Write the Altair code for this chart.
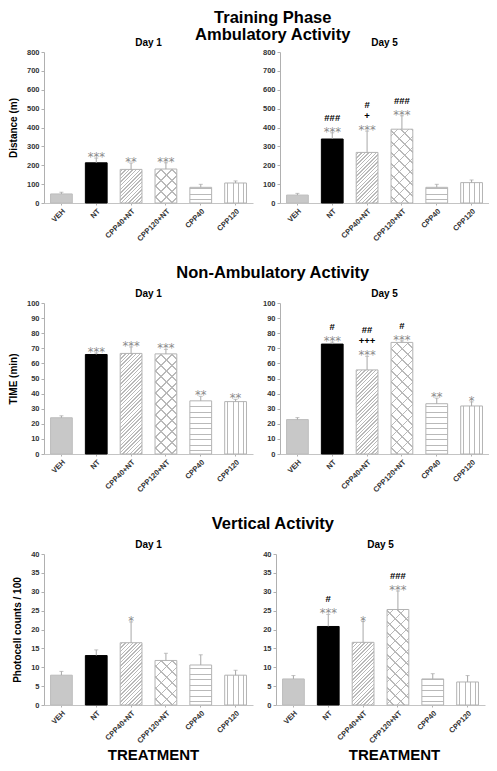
import math
import altair as alt
import pandas as pd

categories = ["VEH", "NT", "CPP40+NT", "CPP120+NT", "CPP40", "CPP120"]

amb_day1 = [48, 213, 178, 180, 83, 106]
amb_day1_sem = [9, 25, 34, 33, 16, 11]
amb_day1_sig = ["", "***", "**", "***", "", ""]
amb_day5 = [42, 339, 268, 391, 83, 108]
amb_day5_sem = [9, 33, 113, 71, 16, 14]
amb_day5_sig = ["", "***|###", "***|+|#", "***|###", "", ""]

non_day1 = [24.0, 65.9, 66.6, 66.3, 35.2, 34.7]
non_day1_sem = [1.3, 1.0, 4.3, 3.0, 3.0, 1.5]
non_day1_sig = ["", "***", "***", "***", "**", "**"]
non_day5 = [22.8, 72.8, 55.7, 73.9, 33.3, 31.8]
non_day5_sem = [1.3, 1.3, 9.0, 1.0, 3.7, 2.7]
non_day5_sig = ["", "***|#", "***|+++|##", "***|#", "**", "*"]

vert_day1 = [7.9, 13.1, 16.5, 11.8, 10.6, 7.9]
vert_day1_sem = [1.0, 1.5, 5.5, 1.9, 2.7, 1.3]
vert_day1_sig = ["", "", "*", "", "", ""]
vert_day5 = [6.9, 20.8, 16.6, 25.3, 6.9, 6.1]
vert_day5_sem = [0.9, 3.2, 5.5, 4.9, 1.4, 1.7]
vert_day5_sig = ["", "***|#", "*", "***|###", "", ""]

W, H = 209, 151
PAD_IN = 0.375
BAR_W = W / 6 * (1 - PAD_IN)
HATCH = "#b9b9b9"
EDGE = "#b3b3b3"
FONT = "Liberation Sans"


def stripe_fill(kind, w, h, period, thick=1.0, bg="#ffffff"):
    if kind == "h":
        L = h
        coords = dict(x1=0, y1=1, x2=0, y2=0)
        tt = thick
    elif kind == "v":
        L = w
        coords = dict(x1=0, y1=0, x2=1, y2=0)
        tt = thick
    elif kind == "d":
        L = w + h
        s = L / (w * w + h * h)
        coords = dict(x1=0, y1=0, x2=w * s, y2=h * s)
        tt = thick * math.sqrt(2)
    else:
        L = w + h
        s = L / (w * w + h * h)
        coords = dict(x1=0, y1=1, x2=w * s, y2=1 - h * s)
        tt = thick * math.sqrt(2)
    stops = [alt.GradientStop(offset=0, color=bg)]
    c = period * 0.6
    while c + tt / 2 < L:
        a = round((c - tt / 2) / L, 5)
        b = round((c + tt / 2) / L, 5)
        stops += [
            alt.GradientStop(offset=a, color=bg),
            alt.GradientStop(offset=a, color=HATCH),
            alt.GradientStop(offset=b, color=HATCH),
            alt.GradientStop(offset=b, color=bg),
        ]
        c += period
    stops.append(alt.GradientStop(offset=1, color=bg))
    return alt.LinearGradient(gradient="linear", stops=stops, **coords)


def panel(vals, sems, sigs, ymax, ystep, day, ytitle, xtitle, xtitle_x):
    df = pd.DataFrame({
        "category": categories,
        "value": vals,
        "top": [v + e for v, e in zip(vals, sems)],
    })
    rows = []
    for cat, v, e, s in zip(categories, vals, sems, sigs):
        if s:
            for i, t in enumerate(s.split("|")):
                rows.append({"category": cat, "top": v + e, "line": i, "txt": t})
    ann = pd.DataFrame(rows, columns=["category", "top", "line", "txt"])

    yscale = alt.Scale(domain=[0, ymax], nice=False, zero=True)
    yaxis = alt.Axis(
        values=list(range(0, ymax + 1, ystep)), grid=False, tickSize=3,
        labelPadding=2, titlePadding=8,
    )
    xaxis_kwargs = dict(labelAngle=-45, tickSize=2, labelPadding=2, domainColor="#c4c4c4")
    if xtitle:
        xaxis_kwargs.update(title=xtitle, titleFontSize=15, titlePadding=3, titleX=xtitle_x)
    else:
        xaxis_kwargs.update(title=None)
    x = alt.X("category:N", sort=categories,
              scale=alt.Scale(domain=categories, paddingInner=PAD_IN, paddingOuter=PAD_IN / 2),
              axis=alt.Axis(**xaxis_kwargs))

    def y(field):
        return alt.Y(f"{field}:Q", scale=yscale, axis=yaxis, title=ytitle)

    def hpx(cat):
        return vals[categories.index(cat)] / ymax * H

    base = alt.Chart(df)
    layers = []
    layers.append(base.transform_filter(alt.datum.category == "VEH")
                  .mark_bar(fill="#c8c8c8", stroke="#bdbdbd", strokeWidth=1)
                  .encode(x=x, y=y("value")))
    layers.append(base.transform_filter(alt.datum.category == "NT")
                  .mark_bar(fill="#000000", stroke="#000000", strokeWidth=1)
                  .encode(x=x, y=y("value")))
    layers.append(base.transform_filter(alt.datum.category == "CPP40+NT")
                  .mark_bar(fill=stripe_fill("d", BAR_W, hpx("CPP40+NT"), 3.6),
                            stroke=EDGE, strokeWidth=1)
                  .encode(x=x, y=y("value")))
    layers.append(base.transform_filter(alt.datum.category == "CPP120+NT")
                  .mark_bar(fill=stripe_fill("d", BAR_W, hpx("CPP120+NT"), 11))
                  .encode(x=x, y=y("value")))
    layers.append(base.transform_filter(alt.datum.category == "CPP120+NT")
                  .mark_bar(fill=stripe_fill("b", BAR_W, hpx("CPP120+NT"), 11,
                                             bg="rgba(255,255,255,0)"),
                            stroke=EDGE, strokeWidth=1)
                  .encode(x=x, y=y("value")))
    layers.append(base.transform_filter(alt.datum.category == "CPP40")
                  .mark_bar(fill=stripe_fill("h", BAR_W, hpx("CPP40"), 5.5),
                            stroke=EDGE, strokeWidth=1)
                  .encode(x=x, y=y("value")))
    layers.append(base.transform_filter(alt.datum.category == "CPP120")
                  .mark_bar(fill=stripe_fill("v", BAR_W, hpx("CPP120"), 5.3),
                            stroke=EDGE, strokeWidth=1)
                  .encode(x=x, y=y("value")))
    layers.append(base.mark_rule(color="#a8a8a8", strokeWidth=1)
                  .encode(x=x, y=y("value"), y2="top:Q"))
    layers.append(base.mark_tick(color="#a8a8a8", size=4, thickness=1)
                  .encode(x=x, y=y("top")))
    annb = alt.Chart(ann)
    layers.append(annb.transform_filter(alt.datum.line == 0)
                  .mark_text(font="DejaVu Sans", fontSize=11.5, color="#8a8a8a",
                             baseline="alphabetic", dy=3)
                  .encode(x=x, y=y("top"), text="txt:N"))
    layers.append(annb.transform_filter(alt.datum.line == 1)
                  .mark_text(font=FONT, fontSize=9.5, fontWeight="bold", color="#000000",
                             baseline="alphabetic", dy=-12)
                  .encode(x=x, y=y("top"), text="txt:N"))
    layers.append(annb.transform_filter(alt.datum.line == 2)
                  .mark_text(font=FONT, fontSize=9.5, fontWeight="bold", color="#000000",
                             baseline="alphabetic", dy=-23)
                  .encode(x=x, y=y("top"), text="txt:N"))
    return alt.layer(*layers).properties(
        width=W, height=H,
        title=alt.TitleParams(day, fontSize=10, fontWeight="bold", font=FONT, offset=0),
    )


def row(title, left, right, offset):
    return alt.hconcat(left, right, spacing=9).properties(
        title=alt.TitleParams(title, fontSize=16.5, fontWeight="bold", font=FONT,
                              anchor="middle", lineHeight=16.5, offset=offset, dx=24)
    )


r1 = row(["Training Phase", "Ambulatory Activity"],
         panel(amb_day1, amb_day1_sem, amb_day1_sig, 800, 100, "Day 1", "Distance (m)", None, None),
         panel(amb_day5, amb_day5_sem, amb_day5_sig, 800, 100, "Day 5", None, None, None), -5)
r2 = row("Non-Ambulatory Activity",
         panel(non_day1, non_day1_sem, non_day1_sig, 100, 10, "Day 1", "TIME (min)", None, None),
         panel(non_day5, non_day5_sem, non_day5_sig, 100, 10, "Day 5", None, None, None), 8)
r3 = row("Vertical Activity",
         panel(vert_day1, vert_day1_sem, vert_day1_sig, 40, 5, "Day 1", "Photocell counts / 100", "TREATMENT", 109),
         panel(vert_day5, vert_day5_sem, vert_day5_sig, 40, 5, "Day 5", None, "TREATMENT", 118), 8)

chart = alt.vconcat(r1, r2, r3, spacing=21).properties(
    padding={"left": 0, "top": 2, "right": 0, "bottom": 0},
    background="white",
).configure_view(stroke=None).configure_axis(
    labelFont=FONT, labelFontWeight="bold", labelFontSize=7.5, labelColor="#333333",
    titleFont=FONT, titleFontWeight="bold", titleFontSize=10, titleColor="#000000",
    domainColor="#b0b0b0", tickColor="#b0b0b0",
).configure_title(color="#000000")

chart.save("out.html", embed_options={"renderer": "svg", "actions": False})
